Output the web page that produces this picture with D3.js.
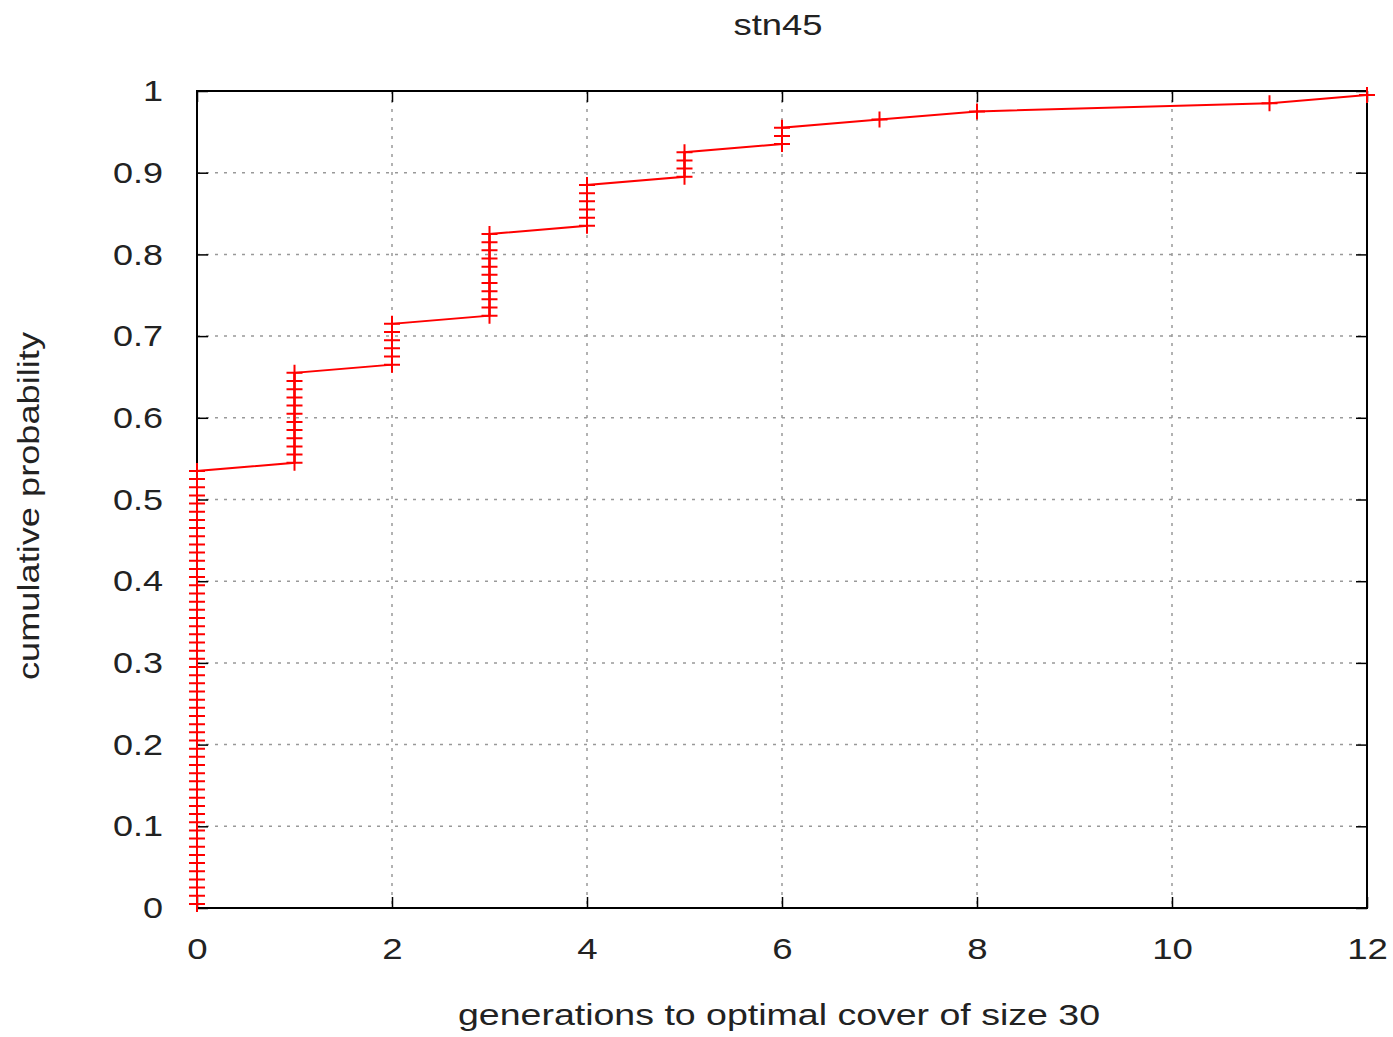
<!DOCTYPE html>
<html>
<head>
<meta charset="utf-8">
<script src="https://cdn.jsdelivr.net/npm/d3@7"></script>
<style>
  html, body { margin: 0; padding: 0; background: #fff; }
  svg { display: block; }
  text { font-family: "Liberation Sans", Arial, sans-serif; fill: #222; }
</style>
</head>
<body>
<svg id="chart" width="1393" height="1037"></svg>
<script>
// Data: generations needed and how many runs (of 100) needed that many
const generations = [0, 1, 2, 3, 4, 5, 6, 7, 8, 11, 12];
const runCounts   = [54, 12, 6, 11, 6, 4, 3, 1, 1, 1, 1];
const xTicks = [0, 2, 4, 6, 8, 10, 12];
const yTicks = [0, 0.1, 0.2, 0.3, 0.4, 0.5, 0.6, 0.7, 0.8, 0.9, 1];
const yTickLabels = ["0", "0.1", "0.2", "0.3", "0.4", "0.5", "0.6", "0.7", "0.8", "0.9", "1"];
const titleText = "stn45";
const xTitle = "generations to optimal cover of size 30";
const yTitle = "cumulative probability";

// Empirical cumulative distribution points (gnuplot "cumulative" style)
const total = d3.sum(runCounts);
const points = [];
let idx = 0;
generations.forEach((g, k) => {
  for (let j = 0; j < runCounts[k]; j++) {
    idx += 1;
    points.push({ x: g, y: (idx - 0.5) / total });
  }
});

const svg = d3.select("#chart");
const L = 197, R = 1367, T = 91, B = 908;
const x = d3.scaleLinear().domain([0, 12]).range([L, R]);
const y = d3.scaleLinear().domain([0, 1]).range([B, T]);

function widen(sel, factor) {
  sel.each(function () {
    const len = this.getComputedTextLength();
    if (len > 0) d3.select(this).attr("textLength", len * factor).attr("lengthAdjust", "spacingAndGlyphs");
  });
}

// Grid
const grid = svg.append("g");
grid.selectAll("line.gx").data(xTicks.filter(d => d > 0 && d < 12)).join("line")
  .attr("x1", d => x(d)).attr("x2", d => x(d)).attr("y1", T).attr("y2", B)
  .attr("stroke", "#999").attr("stroke-width", 1.5).attr("stroke-dasharray", "3,6");
grid.selectAll("line.gy").data(yTicks.filter(d => d > 0 && d < 1)).join("line")
  .attr("y1", d => y(d)).attr("y2", d => y(d)).attr("x1", L).attr("x2", R)
  .attr("stroke", "#999").attr("stroke-width", 1.5).attr("stroke-dasharray", "3,6");

// Axes (inward ticks, mirrored)
const tickLen = 11;
const axB = svg.append("g").attr("transform", `translate(0,${B})`)
  .call(d3.axisBottom(x).tickValues(xTicks).tickSize(-tickLen).tickPadding(30).tickFormat(d3.format("d")));
const axT = svg.append("g").attr("transform", `translate(0,${T})`)
  .call(d3.axisTop(x).tickValues(xTicks).tickSize(-tickLen).tickFormat(""));
const axL = svg.append("g").attr("transform", `translate(${L},0)`)
  .call(d3.axisLeft(y).tickValues(yTicks).tickSize(-tickLen).tickPadding(34).tickFormat((d, i) => yTickLabels[i]));
const axR = svg.append("g").attr("transform", `translate(${R},0)`)
  .call(d3.axisRight(y).tickValues(yTicks).tickSize(-tickLen).tickFormat(""));
[axB, axT, axL, axR].forEach(a => {
  a.select(".domain").remove();
  a.selectAll(".tick line").attr("stroke", "#000").attr("stroke-width", 1.5);
  a.selectAll(".tick text").style("font-family", '"Liberation Sans", Arial, sans-serif')
    .style("font-size", "30px").attr("fill", "#222");
});
axB.selectAll(".tick text").attr("dy", "0.71em");
widen(axB.selectAll(".tick text"), 1.22);
widen(axL.selectAll(".tick text"), 1.2);

// Frame
svg.append("rect").attr("x", L).attr("y", T).attr("width", R - L).attr("height", B - T)
  .attr("fill", "none").attr("stroke", "#000").attr("stroke-width", 2);

// Line
const line = d3.line().x(d => x(d.x)).y(d => y(d.y));
svg.append("path").datum(points).attr("d", line)
  .attr("fill", "none").attr("stroke", "#ff0000").attr("stroke-width", 2);

// Markers "+"
const m = 8;
const mk = svg.append("g").attr("stroke", "#ff0000").attr("stroke-width", 2);
mk.selectAll("path").data(points).join("path")
  .attr("d", d => `M${x(d.x) - m},${y(d.y)}h${2 * m}M${x(d.x)},${y(d.y) - m}v${2 * m}`);

// Titles
svg.append("text").attr("x", 778).attr("y", 35).attr("text-anchor", "middle")
  .style("font-size", "30px").attr("textLength", 89).attr("lengthAdjust", "spacingAndGlyphs").text(titleText);
svg.append("text").attr("x", 779).attr("y", 1025).attr("text-anchor", "middle")
  .style("font-size", "30px").attr("textLength", 642).attr("lengthAdjust", "spacingAndGlyphs").text(xTitle);
svg.append("text").attr("transform", "translate(39,506) rotate(-90)").attr("text-anchor", "middle")
  .style("font-size", "30px").attr("textLength", 348).attr("lengthAdjust", "spacingAndGlyphs").text(yTitle);
</script>
</body>
</html>
